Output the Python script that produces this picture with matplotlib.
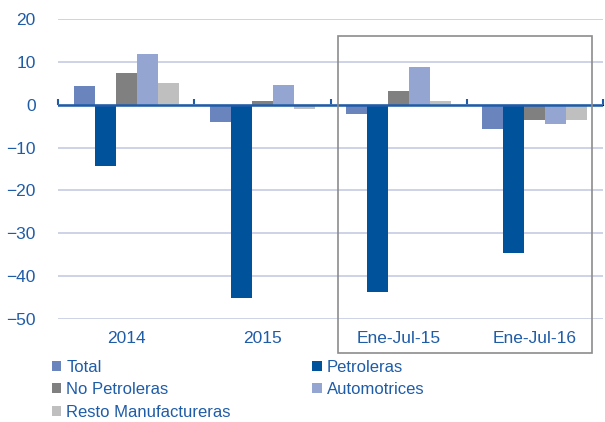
import matplotlib
matplotlib.use('Agg')
import matplotlib.pyplot as plt
import numpy as np
from matplotlib.patches import Rectangle

# data
categories = ['2014', '2015', 'Ene-Jul-15', 'Ene-Jul-16']
series_names = ['Total', 'Petroleras', 'No Petroleras', 'Automotrices', 'Resto Manufactureras']
total = [4.4, -4.0, -2.2, -5.6]
petroleras = [-14.2, -45.2, -43.6, -34.6]
no_petroleras = [7.3, 0.9, 3.2, -3.5]
automotrices = [11.9, 4.7, 8.9, -4.4]
resto = [5.1, -1.0, 0.8, -3.6]
series_values = [total, petroleras, no_petroleras, automotrices, resto]
colors = ['#6A84BE', '#00529B', '#808080', '#94A5D1', '#BFBFBF']

text_blue = '#1F5CA8'
plt.rcParams['font.family'] = ['Liberation Sans', 'DejaVu Sans']

fig = plt.figure(figsize=(6.05, 4.22), dpi=100)
ax = fig.add_axes([0.0959, 0.2441, 0.9008, 0.7109])

x = np.arange(len(categories))
w = 0.154
bars = []
for i, (name, vals, c) in enumerate(zip(series_names, series_values, colors)):
    b = ax.bar(x + (i - 2) * w, vals, w, color=c, label=name, zorder=3)
    bars.append(b)

ax.set_xlim(-0.5, len(categories) - 0.5)
ax.set_ylim(-50, 20)
ax.set_yticks(np.arange(-50, 21, 10))
ax.grid(axis='y', color='#C5CBE3', lw=1.2, zorder=0)
ax.axhline(0, color=text_blue, lw=1.8, zorder=4)
for s in ax.spines.values():
    s.set_visible(False)
ax.set_xticks(x)
ax.set_xticklabels(categories)
ax.tick_params(axis='x', length=0, pad=9, labelsize=12.5, labelcolor=text_blue)
ax.tick_params(axis='y', length=0, pad=16, labelsize=12.5, labelcolor=text_blue)

# small boundary ticks on the zero line
sec = ax.secondary_xaxis(50 / 70)
sec.set_xticks(np.arange(-0.5, len(categories), 1.0))
sec.set_xticklabels([])
sec.tick_params(axis='x', direction='out', length=4, width=1.5, color=text_blue)
sec.spines['bottom'].set_visible(False)

# frame around the year-to-date groups
fig.patches.append(Rectangle((338 / 605, 1 - 353 / 422), (592 - 338) / 605, (353 - 36) / 422,
                             transform=fig.transFigure, fill=False, ec='#8C8C8C', lw=1.2))

order = [0, 2, 4, 1, 3]
leg = fig.legend([bars[i] for i in order], [series_names[i] for i in order],
                 ncol=2, loc='upper left', bbox_to_anchor=(0.086, 0.148),
                 frameon=False, fontsize=12, handlelength=0.55, handleheight=0.55,
                 handletextpad=0.3, columnspacing=4.9, labelspacing=0.45,
                 borderaxespad=0, borderpad=0)
for t in leg.get_texts():
    t.set_color(text_blue)

fig.savefig('out.png', dpi=100)
